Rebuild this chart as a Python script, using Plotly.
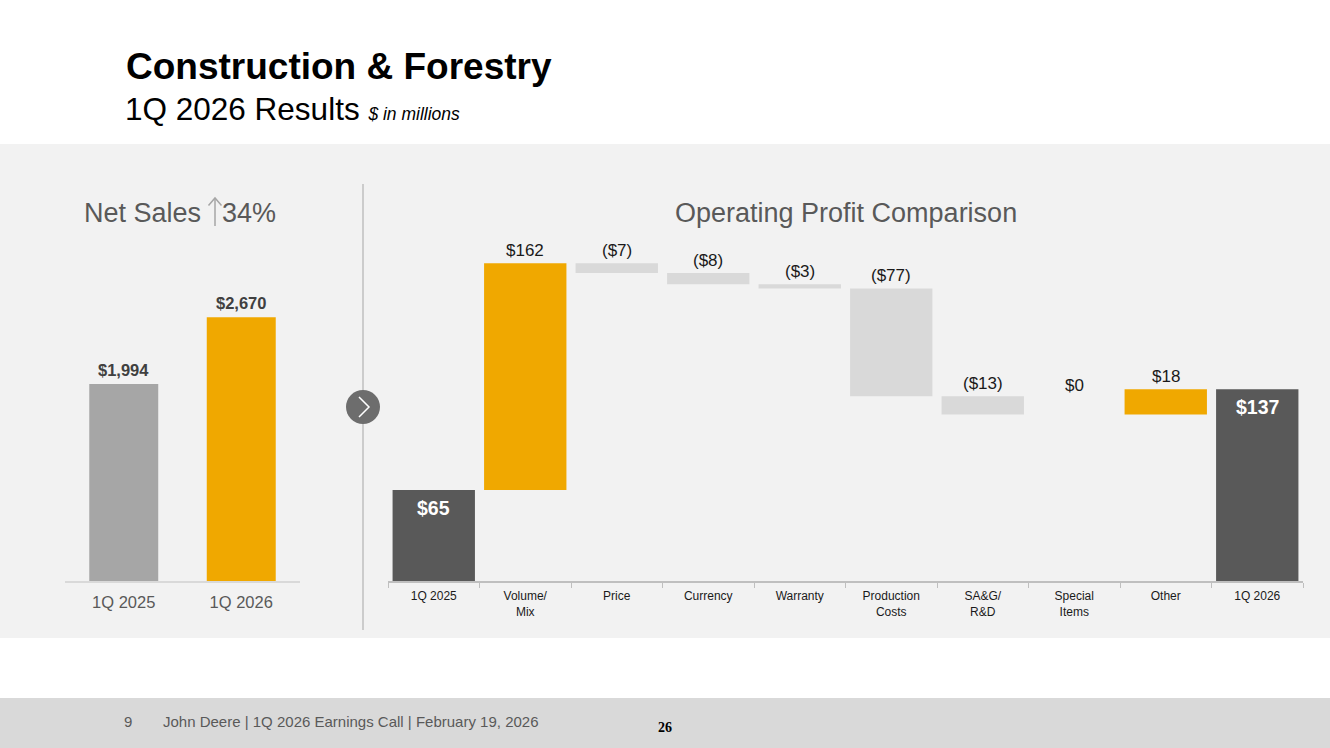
import plotly.graph_objects as go

W, H = 1330, 748

# ---- data ----
sales_periods = ["1Q 2025", "1Q 2026"]
sales_values = [1994, 2670]
sales_labels = ["$1,994", "$2,670"]

op_categories = ["1Q 2025", "Volume/<br>Mix", "Price", "Currency", "Warranty",
                 "Production<br>Costs", "SA&G/<br>R&D", "Special<br>Items", "Other", "1Q 2026"]
op_values = [65, 162, -7, -8, -3, -77, -13, 0, 18, 137]
op_measures = ["absolute", "relative", "relative", "relative", "relative",
               "relative", "relative", "relative", "relative", "total"]
op_labels = ["$65", "$162", "($7)", "($8)", "($3)", "($77)", "($13)", "$0", "$18", "$137"]

FONT = "Arial, Liberation Sans, sans-serif"
ORANGE = "#f0a800"
DARK = "#595959"
LIGHT = "#d9d9d9"

def px_x(p):
    return p / W

def px_y(p):
    return 1 - p / H

fig = go.Figure()

# left bar chart
fig.add_trace(go.Bar(
    x=sales_periods, y=sales_values, marker_color=["#a6a6a6", ORANGE],
    marker_line_width=0, xaxis="x", yaxis="y", showlegend=False, hoverinfo="skip",
))

# waterfall
fig.add_trace(go.Waterfall(
    x=op_categories, y=op_values, measure=op_measures,
    increasing=dict(marker=dict(color=ORANGE, line=dict(width=0))),
    decreasing=dict(marker=dict(color=LIGHT, line=dict(width=0))),
    totals=dict(marker=dict(color=DARK, line=dict(width=0))),
    connector=dict(visible=False), xaxis="x2", yaxis="y2",
    showlegend=False, hoverinfo="skip", width=0.9,
))

annotations = []
# left labels
for cat, v, lab in zip(sales_periods, sales_values, sales_labels):
    annotations.append(dict(x=cat, y=v, xref="x", yref="y", text=f"<b>{lab}</b>",
                            showarrow=False, yanchor="bottom", yshift=3,
                            font=dict(family=FONT, size=16.5, color="#404040")))

# waterfall labels
level = 0
for cat, v, m, lab in zip(op_categories, op_values, op_measures, op_labels):
    if m == "absolute" or m == "total":
        end = v if m == "absolute" else level
        level = end
        annotations.append(dict(x=cat, y=end, xref="x2", yref="y2", text=f"<b>{lab}</b>",
                                showarrow=False, yanchor="top", yshift=-5,
                                font=dict(family=FONT, size=19.5, color="white")))
    else:
        start = level
        level = level + v
        top = max(start, level)
        annotations.append(dict(x=cat, y=top, xref="x2", yref="y2", text=lab,
                                showarrow=False, yanchor="bottom",
                                yshift=1 if v != 0 else 17,
                                font=dict(family=FONT, size=17, color="#1a1a1a")))

# titles
annotations += [
    dict(x=px_x(124), y=px_y(66), xref="paper", yref="paper", xanchor="left", yanchor="middle",
         text="<b>Construction & Forestry</b>", showarrow=False,
         font=dict(family=FONT, size=37, color="black")),
    dict(x=px_x(123), y=px_y(109), xref="paper", yref="paper", xanchor="left", yanchor="middle",
         text="1Q 2026 Results <span style='font-size:17.5px'><i>$ in millions</i></span>",
         showarrow=False, font=dict(family=FONT, size=31.5, color="black")),
    dict(x=px_x(203), y=px_y(213), xref="paper", yref="paper", xanchor="right", yanchor="middle",
         text="Net Sales", showarrow=False,
         font=dict(family=FONT, size=27, color="#595959")),
    dict(x=px_x(220), y=px_y(213), xref="paper", yref="paper", xanchor="left", yanchor="middle",
         text="34%", showarrow=False,
         font=dict(family=FONT, size=27, color="#595959")),
    dict(x=px_x(846), y=px_y(213), xref="paper", yref="paper", xanchor="center", yanchor="middle",
         text="Operating Profit Comparison", showarrow=False,
         font=dict(family=FONT, size=27, color="#595959")),
    dict(x=px_x(122), y=px_y(721), xref="paper", yref="paper", xanchor="left", yanchor="middle",
         text="9", showarrow=False, font=dict(family=FONT, size=15, color="#595959")),
    dict(x=px_x(161), y=px_y(721), xref="paper", yref="paper", xanchor="left", yanchor="middle",
         text="John Deere | 1Q 2026 Earnings Call | February 19, 2026", showarrow=False,
         font=dict(family=FONT, size=15, color="#595959")),
    dict(x=px_x(665), y=px_y(727), xref="paper", yref="paper", xanchor="center", yanchor="middle",
         text="<b>26</b>", showarrow=False,
         font=dict(family="Liberation Serif, Times New Roman, serif", size=14, color="black")),
]

shapes = [
    dict(type="rect", xref="paper", yref="paper", x0=0, x1=1, y0=px_y(638), y1=px_y(144),
         fillcolor="#f2f2f2", line=dict(width=0), layer="below"),
    dict(type="rect", xref="paper", yref="paper", x0=0, x1=1, y0=0, y1=px_y(698),
         fillcolor="#d9d9d9", line=dict(width=0), layer="below"),
    dict(type="line", xref="paper", yref="paper", x0=px_x(363), x1=px_x(363),
         y0=px_y(630), y1=px_y(184), line=dict(color="#bfbfbf", width=1.5), layer="above"),
    dict(type="circle", xref="paper", yref="paper", x0=px_x(346), x1=px_x(380),
         y0=px_y(424), y1=px_y(390), fillcolor="#6d6d6d", line=dict(width=0), layer="above"),
    dict(type="path", xref="paper", yref="paper",
         path=f"M {px_x(359)} {px_y(397)} L {px_x(369)} {px_y(407)} L {px_x(359)} {px_y(417)}",
         line=dict(color="white", width=1.5), layer="above"),
    # thin up arrow in "Net Sales ↑34%"
    dict(type="path", xref="paper", yref="paper",
         path=f"M {px_x(215)} {px_y(226)} L {px_x(215)} {px_y(198)}",
         line=dict(color="#a6a6a6", width=1.5), layer="above"),
    dict(type="path", xref="paper", yref="paper",
         path=f"M {px_x(208.5)} {px_y(205.5)} L {px_x(215)} {px_y(198)} L {px_x(221.5)} {px_y(205.5)}",
         line=dict(color="#a6a6a6", width=1.5), layer="above"),
]

base = px_y(581)
fig.update_layout(
    width=W, height=H, margin=dict(l=0, r=0, t=0, b=0),
    paper_bgcolor="white", plot_bgcolor="rgba(0,0,0,0)",
    bargap=0.413,
    xaxis=dict(domain=[px_x(65), px_x(300)], showgrid=False, zeroline=False,
               showline=True, linecolor="#d9d9d9", linewidth=1.5, ticks="",
               tickfont=dict(family=FONT, size=16.5, color="#595959"), ticklabelstandoff=5),
    yaxis=dict(domain=[base, base + 3000 * 0.0988 / H], range=[0, 3000], visible=False),
    xaxis2=dict(domain=[px_x(388), px_x(1303)], showgrid=False, zeroline=False,
                showline=True, linecolor="#bfbfbf", linewidth=1.5, ticks="outside",
                tickson="boundaries", ticklen=5, tickcolor="#bfbfbf",
                tickfont=dict(family=FONT, size=12, color="#1a1a1a"), anchor="y2",
                ticklabelstandoff=3),
    yaxis2=dict(domain=[base, base + 250 * 1.4 / H], range=[0, 250], visible=False,
                anchor="x2"),
    annotations=annotations, shapes=shapes,
)

fig.write_html("out.html", config={"displayModeBar": False},
               post_script="document.body.style.margin='0';document.body.style.overflow='hidden';")
